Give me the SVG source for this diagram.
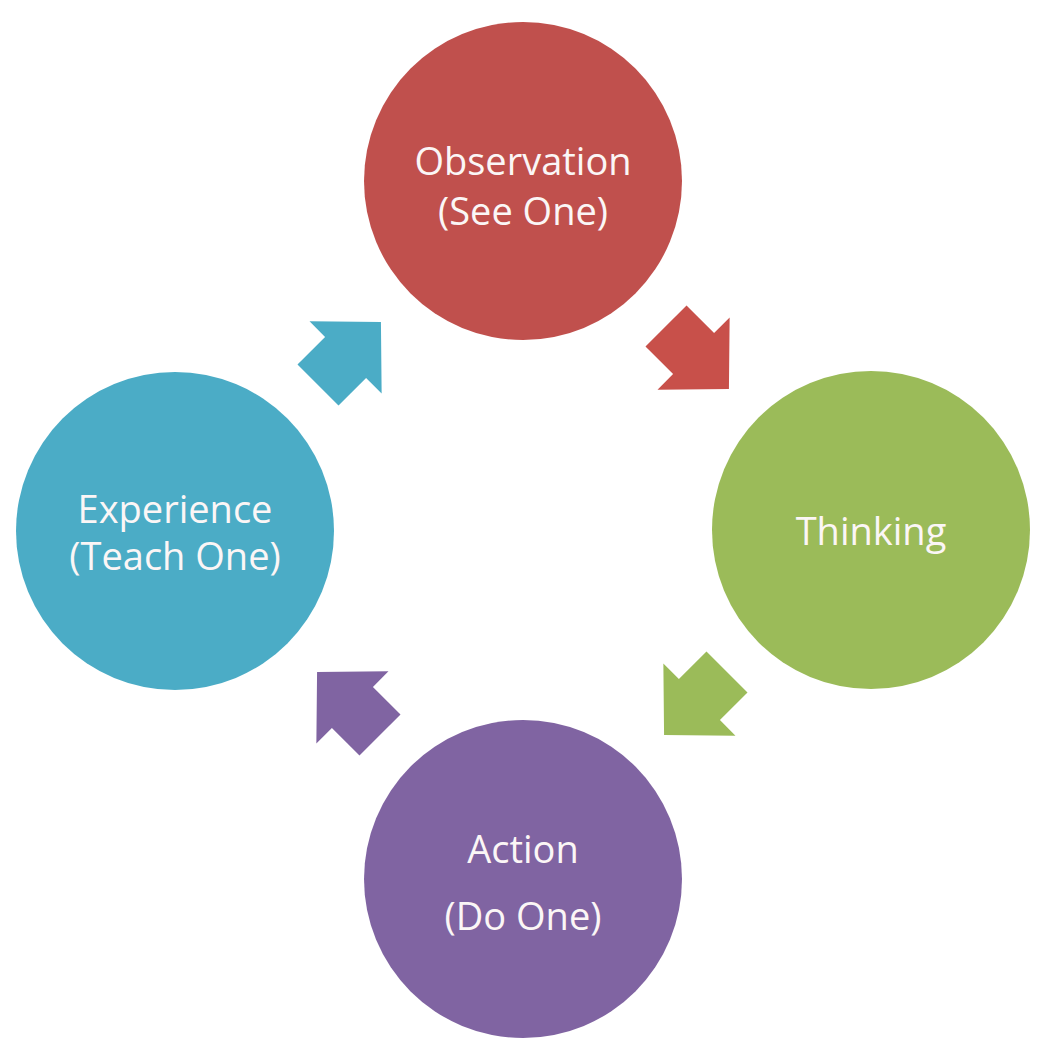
<svg xmlns="http://www.w3.org/2000/svg" width="1043" height="1050" viewBox="0 0 1043 1050">
<style>
.lbl{font-family:"Open Sans","Liberation Sans",sans-serif;font-size:38px;fill:#FBF6F6;text-anchor:middle}
</style>
<defs>
<path id="arr" d="M0,-29 H39 V-51 L89,0 L39,51 V29 H0 Z"/>
</defs>
<rect width="1043" height="1050" fill="#FFFFFF"/>
<g id="connectors">
<use href="#arr" fill="#C8504A" transform="translate(666,326) rotate(45)"/>
<use href="#arr" fill="#9BBB59" transform="translate(727,672) rotate(135)"/>
<use href="#arr" fill="#8064A2" transform="translate(380,735) rotate(225)"/>
<use href="#arr" fill="#4BACC6" transform="translate(318,385) rotate(-45)"/>
</g>
<g id="observation">
<circle cx="523" cy="181" r="159" fill="#C0504D"/>
<text class="lbl" x="523" y="175">Observation</text>
<text class="lbl" x="523" y="225">(See One)</text>
</g>
<g id="thinking">
<circle cx="871" cy="530" r="159" fill="#9BBB59"/>
<text class="lbl" x="871" y="545">Thinking</text>
</g>
<g id="action">
<circle cx="523" cy="879" r="159" fill="#8064A2"/>
<text class="lbl" x="523" y="863">Action</text>
<text class="lbl" x="523" y="930">(Do One)</text>
</g>
<g id="experience">
<circle cx="175" cy="531" r="159" fill="#4BACC6"/>
<text class="lbl" x="175" y="523">Experience</text>
<text class="lbl" x="175" y="570">(Teach One)</text>
</g>
</svg>
